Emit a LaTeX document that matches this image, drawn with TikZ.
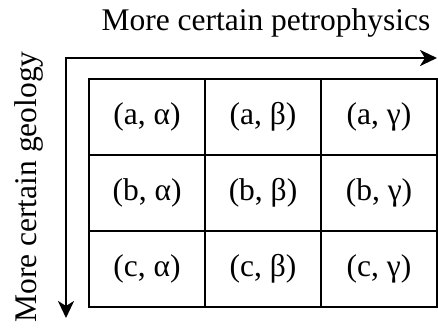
\documentclass[tikz,border=0pt]{standalone}
\usepackage{fontspec}
\setmainfont{Liberation Serif}
\usetikzlibrary{arrows.meta}

\begin{document}
\begin{tikzpicture}[x=1pt, y=1pt, font=\fontsize{31.5}{36}\selectfont, cell/.style={rectangle, draw, line width=2.8pt, minimum width=116pt, minimum height=76pt, inner sep=0pt}, axis/.style={-{Stealth[length=17pt, width=16pt, inset=5pt]}, line width=2.8pt}]
\useasboundingbox (0,0) rectangle (438,-327);
\node[anchor=base] (ttl) at (266,-30) {More certain petrophysics};
\node[rotate=90, anchor=base] (geo) at (36,-187) {More certain geology};
\coordinate (orig) at (66,-58);
\coordinate (xend) at (437,-58);
\coordinate (yend) at (66,-318);
\draw[axis] ([xshift=-1.4pt]orig) -- (xend);
\draw[axis] (orig) -- (yend);
\node[cell] (aa) at (147,-117) {(a, α)};
\node[cell] (ab) at (263,-117) {(a, β)};
\node[cell] (ag) at (379,-117) {(a, γ)};
\node[cell] (ba) at (147,-193) {(b, α)};
\node[cell] (bb) at (263,-193) {(b, β)};
\node[cell] (bg) at (379,-193) {(b, γ)};
\node[cell] (ca) at (147,-269) {(c, α)};
\node[cell] (cb) at (263,-269) {(c, β)};
\node[cell] (cg) at (379,-269) {(c, γ)};
\end{tikzpicture}
\end{document}
